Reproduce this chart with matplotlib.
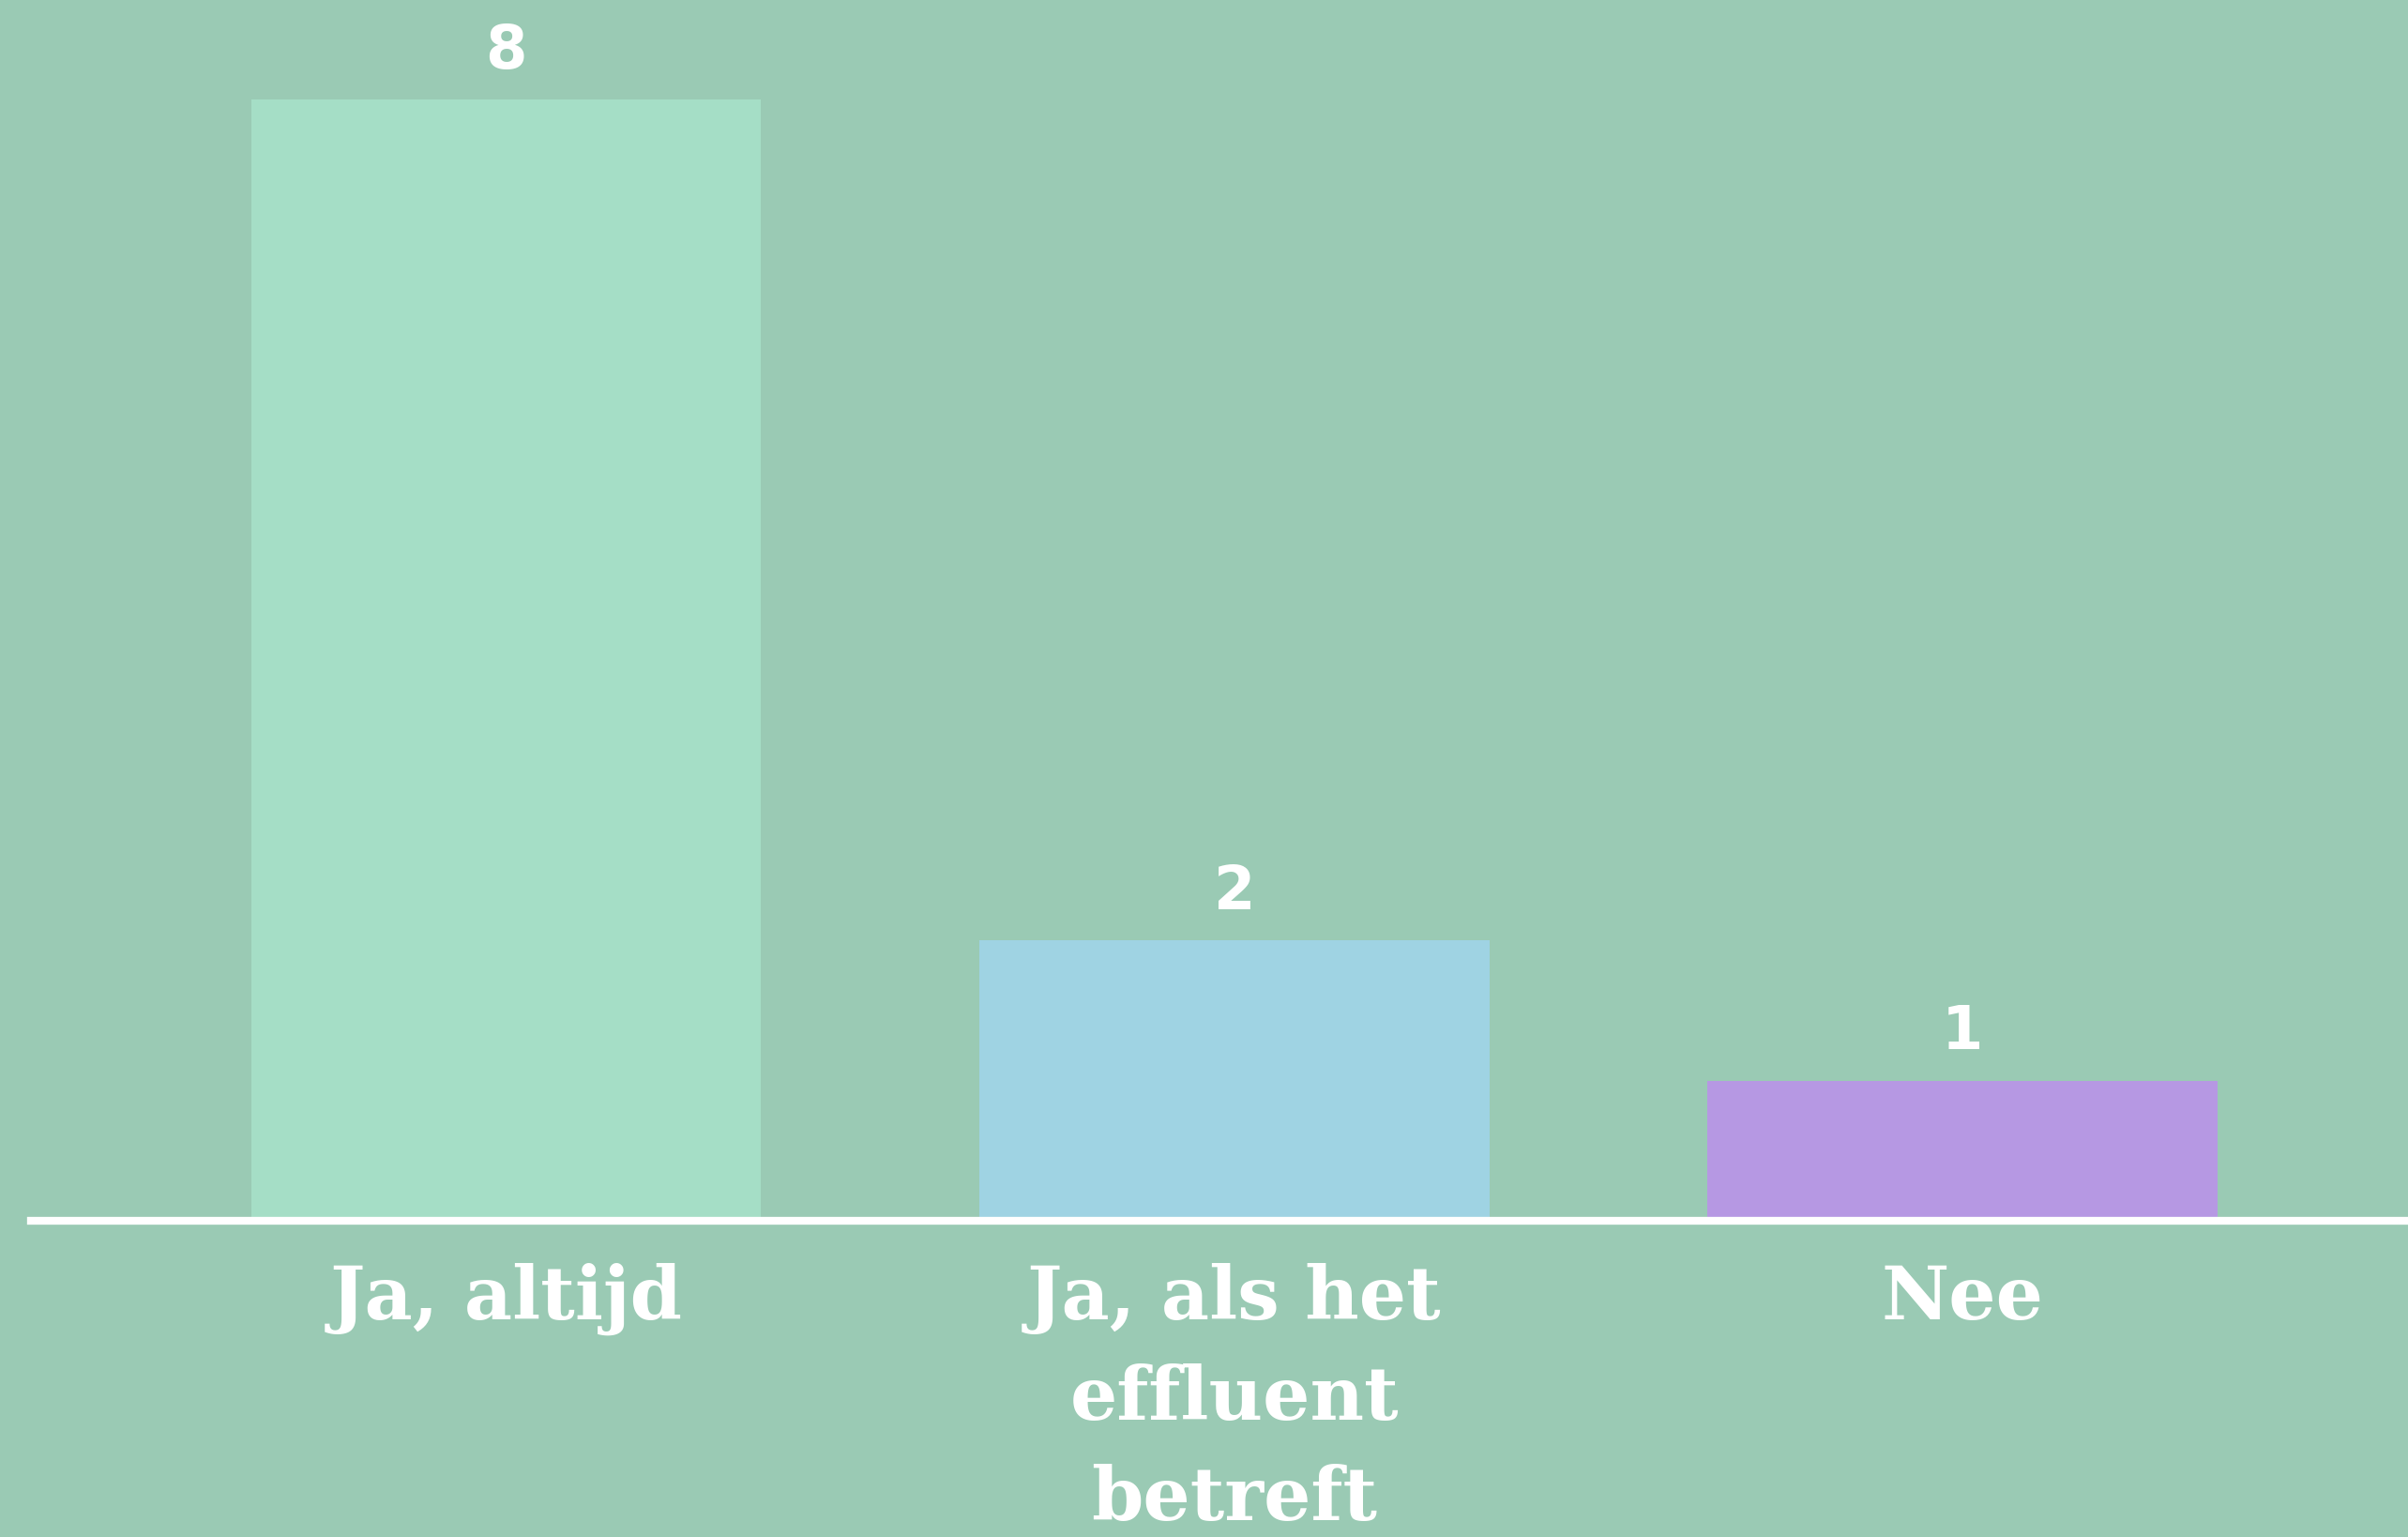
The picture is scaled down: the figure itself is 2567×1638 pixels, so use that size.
import matplotlib.pyplot as plt

# Survey answers
categories = ["Ja, altijd", "Ja, als het\neffluent\nbetreft", "Nee"]
counts = [8, 2, 1]
bar_colors = ["#a5dec6", "#9fd3e3", "#b698e3"]

bg = "#9acab4"

fig = plt.figure(figsize=(25.67, 16.38), dpi=100, facecolor=bg)
ax = fig.add_axes([33 / 2567, 0.2057, 1 - 33 / 2567, 0.7943])
ax.set_facecolor(bg)

x = range(len(categories))
bars = ax.bar(x, counts, width=0.70, color=bar_colors, zorder=2)

# value labels above bars
for rect, v in zip(bars, counts):
    ax.annotate(str(v), (rect.get_x() + rect.get_width() / 2, rect.get_height()),
                xytext=(0, 24), textcoords="offset points", ha="center", va="baseline",
                fontsize=46, fontweight="bold", color="white", family="DejaVu Sans")

ax.set_xlim(-0.653, 2.612)
ax.set_ylim(0, 8.71)

# white baseline
ax.axhline(0, color="white", linewidth=6, zorder=3, clip_on=False)

ax.set_xticks(list(x))
ax.set_xticklabels(categories, fontsize=57, fontweight="bold", color="white",
                   family="DejaVu Serif", linespacing=1.52)
ax.tick_params(axis="x", length=0, pad=32)
ax.set_yticks([])
for s in ax.spines.values():
    s.set_visible(False)

fig.savefig("out.png", dpi=100, facecolor=bg)
